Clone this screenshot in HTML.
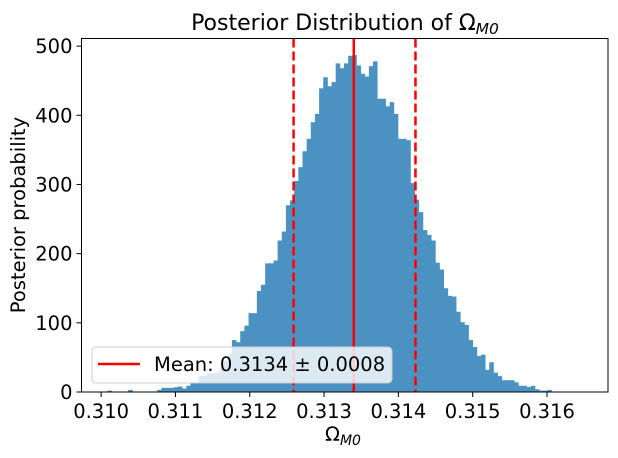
<!DOCTYPE html>
<html><head><meta charset="utf-8"><style>
body{margin:0;background:#fff;}
svg{display:block;font-family:"DejaVu Sans","Liberation Sans",sans-serif;}
</style></head><body>
<svg id="chart" width="618" height="458" viewBox="0 0 618 458" xmlns="http://www.w3.org/2000/svg">
<rect width="618" height="458" fill="#fff"/>
<g id="bars" opacity="0.8"></g>
<g id="lines"></g>
<rect x="81.5" y="38.5" width="526.5" height="353.5" fill="none" stroke="#000" stroke-width="1"/>
<g id="xticks"></g>
<g id="yticks"></g>
<text x="345" y="30" font-size="22" text-anchor="middle">Posterior Distribution of Ω<tspan font-size="15.5" dy="4" font-style="italic">M0</tspan></text>
<text x="343" y="441" font-size="19.5" text-anchor="middle">Ω<tspan font-size="14" dy="4" font-style="italic">M0</tspan></text>
<text x="0" y="0" font-size="19.5" text-anchor="middle" transform="translate(25,215) rotate(-90)">Posterior probability</text>
<g>
<rect x="92" y="347" width="300" height="36" rx="4" fill="#fff" fill-opacity="0.8" stroke="#ccc" stroke-width="1"/>
<line x1="98" y1="364" x2="140" y2="364" stroke="#ff0000" stroke-width="2.5"/>
<text x="154" y="371" font-size="19.5">Mean: 0.3134 ± 0.0008</text>
</g>
</svg>
<script>
const binStart = 0.310029;
const binWidth = 0.00005585;
const counts = [0,2,0,0,0,0,3,0,0,0,0,0,0,3,6,6,6,7,8,5,9,13,13,23,23,27,27,28,35,45,55,75,72,88,96,114,114,146,155,186,186,190,219,232,270,277,305,325,348,366,390,402,439,455,442,448,475,468,475,486,487,472,460,456,471,478,424,424,413,419,402,366,366,364,302,278,260,234,227,219,187,177,150,139,138,116,101,97,75,65,52,54,32,43,28,23,17,17,17,14,9,9,7,9,4,2,2,3];
const meanVal = 0.3134;
const lowerVal = 0.31259;
const upperVal = 0.31423;
const xTicks = [0.310,0.311,0.312,0.313,0.314,0.315,0.316];
const yTicks = [0,100,200,300,400,500];

const X0=81.5,X1=608,Y0=392,Y1=38.5;
const xMin=0.309736,xMax=0.316821,yMin=0,yMax=511;
function sx(v){return X0+(v-xMin)/(xMax-xMin)*(X1-X0);}
function sy(v){return Y0-(v-yMin)/(yMax-yMin)*(Y0-Y1);}
const NS="http://www.w3.org/2000/svg";
function mk(t,a){const e=document.createElementNS(NS,t);for(const k in a)e.setAttribute(k,a[k]);return e;}

const bars=document.getElementById('bars');
counts.forEach((c,i)=>{
  if(c<=0)return;
  const a=sx(binStart+i*binWidth), b=sx(binStart+(i+1)*binWidth);
  const r=mk('rect',{x:a,y:sy(c),width:b-a+0.4,height:Y0-sy(c),fill:'#1f77b4'});
  
  
  bars.appendChild(r);
});

const lines=document.getElementById('lines');
[[lowerVal,'9,4','lower-bound-line'],[upperVal,'9,4','upper-bound-line'],[meanVal,null,'mean-line']].forEach(([v,d,n])=>{
  const l=mk('line',{x1:sx(v),x2:sx(v),y1:Y1,y2:Y0,stroke:'#ff0000','stroke-width':2.5});
  if(d)l.setAttribute('stroke-dasharray',d);
  
  
  lines.appendChild(l);
});

const xt=document.getElementById('xticks');
xTicks.forEach(v=>{
  const x=sx(v);
  const l=mk('line',{x1:x,x2:x,y1:Y0,y2:Y0+5,stroke:'#000'});
  
  
  xt.appendChild(l);
  const t=mk('text',{x:x,y:Y0+26,'font-size':19.5,'text-anchor':'middle'});
  t.textContent=v.toFixed(3);
  
  
  xt.appendChild(t);
});
const yt=document.getElementById('yticks');
yTicks.forEach(v=>{
  const y=sy(v);
  const l=mk('line',{x1:X0-5,x2:X0,y1:y,y2:y,stroke:'#000'});
  
  
  yt.appendChild(l);
  const t=mk('text',{x:X0-9,y:y+7,'font-size':19.5,'text-anchor':'end'});
  t.textContent=v;
  
  
  yt.appendChild(t);
});
</script>
</body></html>
